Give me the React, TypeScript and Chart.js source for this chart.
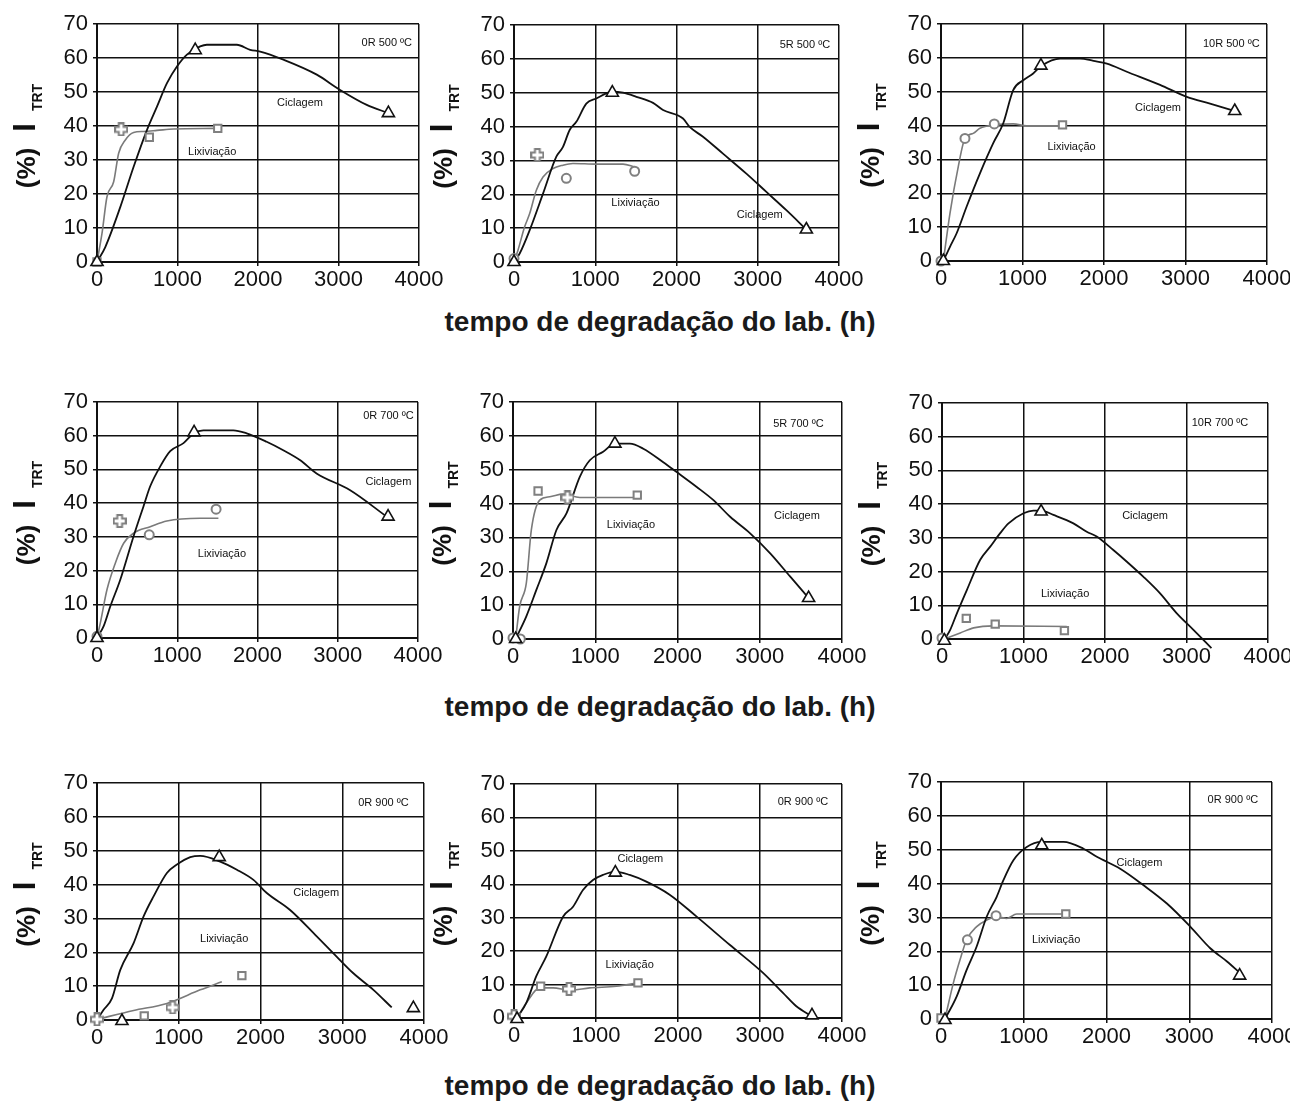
import { useEffect, useRef } from 'react';
import { Chart, registerables } from 'chart.js';

Chart.register(...registerables);

type Pt = [number, number];

// ---------- tick labels ----------
const X_TICKS = [0, 1000, 2000, 3000, 4000];
const Y_TICKS = [0, 10, 20, 30, 40, 50, 60, 70];
const X_TITLE = 'tempo de degradação do lab. (h)';

// ---------- panel 1 : 0R 500 ºC ----------
const p1CicFit: Pt[] = [[0,0],[103,4.4],[290,16.2],[455,28],[620,38.8],[745,45.7],[869,52.6],[993,57.5],[1117,61],[1282,63.4],[1365,63.9],[1737,63.9],[1903,62.4],[2027,61.9],[2316,59.5],[2730,55.1],[3020,50.6],[3351,46.2],[3619,43.8]];
const p1CicPts: Pt[] = [[0,0],[1220,62.3],[3620,43.8]];
const p1LixFit: Pt[] = [[0,0],[62,8.4],[124,19.2],[207,23.6],[269,32],[352,35.9],[455,38.1],[579,38.4],[745,38.7],[951,39.1],[1489,39.3]];
const p1LixSq: Pt[] = [[0,0],[650,36.7],[1500,39.3]];
const p1LixCi: Pt[] = [];
const p1LixPl: Pt[] = [[300,39]];

// ---------- panel 2 : 5R 500 ºC ----------
const p2CicFit: Pt[] = [[0,0],[70,2.5],[193,9.4],[357,20.2],[521,31.1],[603,34],[685,39],[767,41.4],[890,46.8],[1013,48.3],[1136,49.8],[1210,50.3],[1342,50],[1506,48.8],[1711,47],[1834,44.9],[2080,42.4],[2162,39.9],[2326,37],[2572,32],[2860,26.1],[3106,20.7],[3352,15.3],[3598,9.6]];
const p2CicPts: Pt[] = [[0,0],[1210,50],[3598,9.6]];
const p2LixFit: Pt[] = [[0,0],[49,3.5],[131,10.4],[193,14.3],[275,21.2],[357,25.1],[480,27.6],[603,28.6],[726,29.1],[1013,28.9],[1342,28.9],[1485,28.1]];
const p2LixSq: Pt[] = [];
const p2LixCi: Pt[] = [[0,1],[644,24.7],[1485,26.8]];
const p2LixPl: Pt[] = [[287,31.6]];

// ---------- panel 3 : 10R 500 ºC ----------
const p3CicFit: Pt[] = [[29,0],[110,4.2],[192,8.2],[315,16.1],[478,25.9],[641,34.8],[764,40.7],[886,50.5],[1009,53.4],[1131,55.4],[1234,57.7],[1463,59.8],[1708,59.8],[1871,59.1],[2035,58.3],[2280,55.9],[2688,52],[3015,48.5],[3301,46.5],[3608,44.3]];
const p3CicPts: Pt[] = [[29,0],[1226,57.7],[3604,44.3]];
const p3LixFit: Pt[] = [[29,0],[110,14.1],[212,27.9],[294,36.2],[396,37.7],[478,39.2],[662,40.2],[886,40.5],[1050,39.9],[1500,39.9]];
const p3LixSq: Pt[] = [[1491,40.2]];
const p3LixCi: Pt[] = [[0,0],[294,36.2],[654,40.5]];
const p3LixPl: Pt[] = [];

// ---------- panel 4 : 0R 700 ºC ----------
const p4CicFit: Pt[] = [[0,0],[83,3.5],[166,9.4],[290,17.3],[456,30.2],[580,39.1],[663,45],[788,50.9],[912,55.4],[1078,57.8],[1210,60.8],[1326,61.6],[1699,61.6],[1865,60.7],[2114,58.2],[2321,55.7],[2528,52.8],[2736,48.8],[3150,43.9],[3627,35.7]];
const p4CicPts: Pt[] = [[0,0],[1210,61],[3627,36]];
const p4LixFit: Pt[] = [[0,0],[41,4.4],[124,14.3],[228,22.2],[332,28.1],[456,31.1],[663,33],[870,34.7],[1285,35.5],[1513,35.5]];
const p4LixSq: Pt[] = [];
const p4LixCi: Pt[] = [[0,0.5],[651,30.6],[1484,38.2]];
const p4LixPl: Pt[] = [[282,34.7]];

// ---------- panel 5 : 5R 700 ºC ----------
const p5CicFit: Pt[] = [[32,0],[162,6.7],[284,14.5],[406,22.4],[528,32.2],[650,37.1],[812,47.9],[934,52.8],[1096,55.3],[1239,57.7],[1421,57.7],[1584,56.2],[1827,52.2],[1990,49.3],[2234,44.9],[2437,41],[2640,36.1],[2883,31.2],[3127,25.3],[3371,18.4],[3594,12.1]];
const p5CicPts: Pt[] = [[32,0],[1239,57.7],[3594,12.1]];
const p5LixFit: Pt[] = [[32,0],[81,9.6],[162,16.5],[223,32.2],[325,41],[447,42],[609,42.8],[812,41.8],[1503,41.8]];
const p5LixSq: Pt[] = [[305,43.7],[1511,42.5]];
const p5LixCi: Pt[] = [[0,0.3],[89,0]];
const p5LixPl: Pt[] = [[662,41.8]];

// ---------- panel 6 : 10R 700 ºC ----------
const p6CicFit: Pt[] = [[29,-0.2],[102,2.8],[184,7.7],[306,14.6],[469,23.5],[592,27.4],[714,31.4],[816,34.3],[1000,37.3],[1122,38.1],[1216,38.1],[1367,36.8],[1612,34.3],[1776,31.8],[1898,30.4],[2102,26.4],[2265,23],[2469,18.5],[2673,13.6],[2878,7.7],[3082,2.8],[3306,-2.7]];
const p6CicPts: Pt[] = [[29,-0.5],[1216,37.8]];
const p6LixFit: Pt[] = [[29,0],[224,1.8],[388,3.3],[633,3.9],[1531,3.7]];
const p6LixSq: Pt[] = [[298,6.1],[653,4.4],[1502,2.5]];
const p6LixCi: Pt[] = [[0,0.3]];
const p6LixPl: Pt[] = [];

// ---------- panel 7 : 0R 900 ºC ----------
const p7CicFit: Pt[] = [[0,0],[81,3],[183,6.4],[285,14.8],[448,22.7],[570,30.6],[692,36.5],[855,43.4],[978,45.9],[1141,48.1],[1263,48.5],[1507,46.8],[1711,44.4],[1914,41.4],[2077,37.5],[2362,32.5],[2688,24.7],[2892,19.7],[3136,13.8],[3381,8.9],[3605,3.7]];
const p7CicPts: Pt[] = [[305,-0.3],[1495,48.1],[3870,3.5]];
const p7LixFit: Pt[] = [[0,0.2],[448,2.8],[855,4.9],[1263,8.9],[1527,11.3]];
const p7LixSq: Pt[] = [[578,1.2],[1772,13.1]];
const p7LixCi: Pt[] = [];
const p7LixPl: Pt[] = [[0,0.2],[925,3.7]];

// ---------- panel 8 : 0R 900 ºC ----------
const p8CicFit: Pt[] = [[37,0],[150,4.5],[272,12.5],[394,18.4],[598,30.3],[720,33.3],[841,38.3],[963,41.3],[1085,42.8],[1236,43.8],[1411,42.8],[1614,40.8],[1898,36.9],[2224,30.4],[2630,21.9],[3037,13.5],[3280,7.5],[3443,3.5],[3634,0.5]];
const p8CicPts: Pt[] = [[37,-0.3],[1236,43.5],[3634,0.8]];
const p8LixFit: Pt[] = [[37,0],[150,4.5],[313,9],[476,9],[679,8.3],[923,9],[1248,9.5],[1512,10.5]];
const p8LixSq: Pt[] = [[325,9.5],[1512,10.5]];
const p8LixCi: Pt[] = [];
const p8LixPl: Pt[] = [[0,0.5],[671,8.7]];

// ---------- panel 9 : 0R 900 ºC ----------
const p9CicFit: Pt[] = [[48,0],[190,6.7],[310,14.5],[431,21.4],[552,30.2],[673,36.1],[754,41],[875,46.9],[1036,50.8],[1218,52.3],[1480,52.3],[1722,50.3],[1883,47.9],[2165,44.4],[2448,39.5],[2730,34.1],[3012,27.3],[3254,20.9],[3456,17],[3609,13.7]];
const p9CicPts: Pt[] = [[48,-0.3],[1218,51.3],[3609,12.8]];
const p9LixFit: Pt[] = [[48,0],[149,10.6],[230,17.5],[310,23.4],[431,27.3],[552,29.2],[673,30.2],[794,29.7],[915,31],[1520,31]];
const p9LixSq: Pt[] = [[0,0.3],[1508,31]];
const p9LixCi: Pt[] = [[319,23.4],[665,30.5]];
const p9LixPl: Pt[] = [];

const PANEL_TITLES = ['0R 500 ºC', '5R 500 ºC', '10R 500 ºC', '0R 700 ºC', '5R 700 ºC', '10R 700 ºC', '0R 900 ºC', '0R 900 ºC', '0R 900 ºC'];

// ---------- layout (page pixels) ----------
type Rect = { l: number; r: number; t: number; b: number };
type Label = { text: string; x: number; y: number };
interface Panel {
  rect: Rect;
  cicFit: Pt[]; cicPts: Pt[];
  lixFit: Pt[]; lixSq: Pt[]; lixCi: Pt[]; lixPl: Pt[];
  labels: Label[];
}

const mk = (title: string, cic: Pt, lix: Pt, tpos: Pt): Label[] => [
  { text: title, x: tpos[0], y: tpos[1] },
  { text: 'Ciclagem', x: cic[0], y: cic[1] },
  { text: 'Lixiviação', x: lix[0], y: lix[1] },
];

const PANELS: Panel[] = [
  { rect: { l: 97, r: 419, t: 24, b: 262 }, cicFit: p1CicFit, cicPts: p1CicPts, lixFit: p1LixFit, lixSq: p1LixSq, lixCi: p1LixCi, lixPl: p1LixPl, labels: mk(PANEL_TITLES[0], [2522, 46.8], [1431, 32.3], [3600, 64.5]) },
  { rect: { l: 514, r: 839, t: 25, b: 262 }, cicFit: p2CicFit, cicPts: p2CicPts, lixFit: p2LixFit, lixSq: p2LixSq, lixCi: p2LixCi, lixPl: p2LixPl, labels: mk(PANEL_TITLES[1], [3025, 13.8], [1495, 17.4], [3580, 64.1]) },
  { rect: { l: 941, r: 1267, t: 24, b: 261 }, cicFit: p3CicFit, cicPts: p3CicPts, lixFit: p3LixFit, lixSq: p3LixSq, lixCi: p3LixCi, lixPl: p3LixPl, labels: mk(PANEL_TITLES[2], [2663, 45.3], [1602, 33.7], [3562, 64.2]) },
  { rect: { l: 97, r: 418, t: 402, b: 638 }, cicFit: p4CicFit, cicPts: p4CicPts, lixFit: p4LixFit, lixSq: p4LixSq, lixCi: p4LixCi, lixPl: p4LixPl, labels: mk(PANEL_TITLES[3], [3631, 46.4], [1557, 25], [3631, 65.8]) },
  { rect: { l: 513, r: 842, t: 402, b: 639 }, cicFit: p5CicFit, cicPts: p5CicPts, lixFit: p5LixFit, lixSq: p5LixSq, lixCi: p5LixCi, lixPl: p5LixPl, labels: mk(PANEL_TITLES[4], [3452, 36.3], [1434, 33.7], [3471, 63.6]) },
  { rect: { l: 942, r: 1268, t: 403, b: 639 }, cicFit: p6CicFit, cicPts: p6CicPts, lixFit: p6LixFit, lixSq: p6LixSq, lixCi: p6LixCi, lixPl: p6LixPl, labels: mk(PANEL_TITLES[5], [2492, 36.4], [1511, 13.3], [3411, 64.2]) },
  { rect: { l: 97, r: 424, t: 783, b: 1020 }, cicFit: p7CicFit, cicPts: p7CicPts, lixFit: p7LixFit, lixSq: p7LixSq, lixCi: p7LixCi, lixPl: p7LixPl, labels: mk(PANEL_TITLES[6], [2681, 37.5], [1556, 23.9], [3504, 64.1]) },
  { rect: { l: 514, r: 842, t: 784, b: 1018 }, cicFit: p8CicFit, cicPts: p8CicPts, lixFit: p8LixFit, lixSq: p8LixSq, lixCi: p8LixCi, lixPl: p8LixPl, labels: mk(PANEL_TITLES[7], [1541, 47.5], [1411, 15.9], [3524, 64.7]) },
  { rect: { l: 941, r: 1272, t: 782, b: 1019 }, cicFit: p9CicFit, cicPts: p9CicPts, lixFit: p9LixFit, lixSq: p9LixSq, lixCi: p9LixCi, lixPl: p9LixPl, labels: mk(PANEL_TITLES[8], [2398, 46.1], [1391, 23.4], [3527, 64.7]) },
];

const X_TITLE_BASELINES = [332, 717, 1096];

const FONT = '"Liberation Sans", Arial, Helvetica, sans-serif';
const INK = '#111111';
const GRAY_LINE = '#7a7a7a';
const GRAY_MARK = '#808080';

const PAD_L = 96;
const PAD_T = 20;
const PAD_R = 34;
const PAD_B = 40;

function makePlus(color: string): HTMLCanvasElement {
  const c = document.createElement('canvas');
  c.width = 14; c.height = 14;
  const g = c.getContext('2d')!;
  const m = 7, a = 2.4, L = 6;
  g.beginPath();
  g.moveTo(m - a, m - L); g.lineTo(m + a, m - L); g.lineTo(m + a, m - a);
  g.lineTo(m + L, m - a); g.lineTo(m + L, m + a); g.lineTo(m + a, m + a);
  g.lineTo(m + a, m + L); g.lineTo(m - a, m + L); g.lineTo(m - a, m + a);
  g.lineTo(m - L, m + a); g.lineTo(m - L, m - a); g.lineTo(m - a, m - a);
  g.closePath();
  g.fillStyle = '#ffffff'; g.fill();
  g.strokeStyle = color; g.lineWidth = 2; g.stroke();
  return c;
}

const toXY = (pts: Pt[]) => pts.map(([x, y]) => ({ x, y }));

function PanelChart({ p }: { p: Panel }) {
  const ref = useRef<HTMLCanvasElement | null>(null);
  const w = p.rect.r - p.rect.l + PAD_L + PAD_R;
  const h = p.rect.b - p.rect.t + PAD_T + PAD_B;

  useEffect(() => {
    if (!ref.current) return;
    const plus = makePlus(GRAY_MARK);
    const overlay = {
      id: 'overlay',
      afterDraw(chart: any) {
        const { ctx, chartArea, scales } = chart;
        ctx.save();
        ctx.fillStyle = INK;
        ctx.font = `11px ${FONT}`;
        ctx.textAlign = 'center';
        ctx.textBaseline = 'middle';
        for (const lb of p.labels) {
          ctx.fillText(lb.text, scales.x.getPixelForValue(lb.x), scales.y.getPixelForValue(lb.y));
        }
        ctx.restore();

        // y-axis title "(%)  I TRT"
        ctx.save();
        const cx = chartArea.left - 62;
        const cy = (chartArea.top + chartArea.bottom) / 2 - 7;
        ctx.translate(cx, cy);
        ctx.rotate(-Math.PI / 2);
        ctx.fillStyle = INK;
        ctx.textAlign = 'left';
        ctx.textBaseline = 'alphabetic';
        const f1 = `bold 26px ${FONT}`, f2 = `bold 31px ${FONT}`, f3 = `bold 14px ${FONT}`;
        ctx.font = f1; const w1 = ctx.measureText('(%)').width;
        ctx.font = f2; const w2 = ctx.measureText('I').width;
        ctx.font = f3; const w3 = ctx.measureText('TRT').width;
        const gap1 = 16, gap2 = 12;
        let x = -(w1 + gap1 + w2 + gap2 + w3) / 2;
        ctx.font = f1; ctx.fillText('(%)', x, 0); x += w1 + gap1;
        ctx.font = f2; ctx.fillText('I', x, 0); x += w2 + gap2;
        ctx.font = f3; ctx.fillText('TRT', x, 7);
        ctx.restore();
      },
    };

    const chart = new Chart(ref.current, {
      type: 'scatter',
      data: {
        datasets: [
          { data: toXY(p.cicPts), showLine: false, pointStyle: 'triangle', pointRadius: 7, pointBorderWidth: 1.6, pointBorderColor: INK, pointBackgroundColor: '#ffffff', clip: false } as any,
          { data: toXY(p.lixPl), showLine: false, pointStyle: plus, pointRadius: 7, clip: false } as any,
          { data: toXY(p.lixSq), showLine: false, pointStyle: 'rect', pointRadius: 5.2, pointBorderWidth: 2, pointBorderColor: GRAY_MARK, pointBackgroundColor: '#ffffff', clip: false } as any,
          { data: toXY(p.lixCi), showLine: false, pointStyle: 'circle', pointRadius: 4.5, pointBorderWidth: 2, pointBorderColor: GRAY_MARK, pointBackgroundColor: '#ffffff', clip: false } as any,
          { data: toXY(p.cicFit), showLine: true, pointRadius: 0, borderColor: INK, borderWidth: 1.8, cubicInterpolationMode: 'monotone', clip: false } as any,
          { data: toXY(p.lixFit), showLine: true, pointRadius: 0, borderColor: GRAY_LINE, borderWidth: 1.6, cubicInterpolationMode: 'monotone', clip: false } as any,
        ],
      },
      options: {
        animation: false,
        responsive: false,
        devicePixelRatio: 1,
        events: [],
        layout: { padding: { left: 0, top: PAD_T, right: PAD_R, bottom: 0 } },
        plugins: { legend: { display: false }, tooltip: { enabled: false } },
        scales: {
          x: {
            type: 'linear', min: 0, max: 4000,
            afterFit: (s: any) => { s.height = PAD_B; },
            afterBuildTicks: (s: any) => { s.ticks = X_TICKS.map((v) => ({ value: v })); },
            ticks: { font: { size: 22, family: FONT }, color: INK, padding: 1, maxRotation: 0, autoSkip: false, callback: (v: any) => String(v) },
            grid: { color: INK, lineWidth: 1.5, tickLength: 4 },
            border: { color: INK, width: 2 },
          },
          y: {
            type: 'linear', min: 0, max: 70,
            afterFit: (s: any) => { s.width = PAD_L; },
            afterBuildTicks: (s: any) => { s.ticks = Y_TICKS.map((v) => ({ value: v })); },
            ticks: { font: { size: 22, family: FONT }, color: INK, padding: 5, autoSkip: false, callback: (v: any) => String(v) },
            grid: { color: INK, lineWidth: 1.5, tickLength: 4 },
            border: { color: INK, width: 2 },
          },
        },
      },
      plugins: [overlay],
    } as any);
    return () => chart.destroy();
  }, [p]);

  return (
    <canvas
      ref={ref}
      width={w}
      height={h}
      style={{ position: 'absolute', left: p.rect.l - PAD_L, top: p.rect.t - PAD_T, width: w, height: h }}
    />
  );
}

export default function App() {
  return (
    <div style={{ position: 'absolute', left: 0, top: 0, width: 1290, height: 1107, background: '#ffffff', overflow: 'hidden' }}>
      {PANELS.map((p, i) => <PanelChart key={i} p={p} />)}
      {X_TITLE_BASELINES.map((b, i) => (
        <div
          key={i}
          style={{
            position: 'absolute', left: 360, width: 600, top: b - 24, textAlign: 'center',
            font: `bold 28px ${FONT}`, lineHeight: '28px', color: '#1a1a1a', whiteSpace: 'nowrap',
          }}
        >
          {X_TITLE}
        </div>
      ))}
    </div>
  );
}
